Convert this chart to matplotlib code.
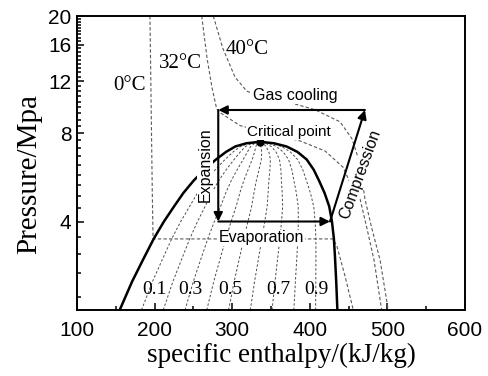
import matplotlib
matplotlib.use('Agg')
import matplotlib.pyplot as plt
import numpy as np
from matplotlib.ticker import FixedLocator, FixedFormatter, NullFormatter

plt.rcParams['font.family'] = ['Liberation Sans', 'DejaVu Sans']
SERIF = ['Liberation Serif', 'DejaVu Serif']

# CO2 saturation dome, pressure in MPa, enthalpy in kJ/kg
p_sat = [2.0, 2.5, 3.0, 3.5, 4.0, 4.5, 5.0, 5.5, 6.0, 6.5, 6.9, 7.2, 7.38, 7.47]
h_liq = [155, 171, 186, 199, 212, 225, 237, 250, 264, 279, 292, 304, 318, 336]
h_vap = [435.5, 434, 432.5, 431, 428.5, 425, 419, 412, 405, 396, 384, 370, 354, 336]
crit_h, crit_p = 336, 7.47

qualities = [0.1, 0.2, 0.3, 0.4, 0.5, 0.6, 0.7, 0.8, 0.9]
q_labels = ['0.1', '0.3', '0.5', '0.7', '0.9']
q_label_h = [200, 246, 297, 359, 409]

# isotherms
iso0_h = [194, 195.5, 197, 198, 430, 435, 445, 456]
iso0_p = [20, 10, 5, 3.49, 3.49, 3.29, 2.63, 2.0]
iso32_h = [260.7, 267.5, 274, 280, 284, 310, 348.7, 387.4, 419.6, 442.8, 455.7, 464.7, 473.7, 482.7, 492.6]
iso32_p = [20, 14.4, 11.4, 9.65, 9.4, 8.48, 7.95, 7.52, 6.95, 6.12, 5.15, 4.77, 3.78, 2.96, 2.0]
iso40_h = [275.6, 288, 303.6, 318.7, 345, 374.5, 406.7, 439, 454.4, 464.7, 471, 480, 490.5, 501]
iso40_p = [20, 15.5, 12.4, 11.1, 10.5, 10.15, 9.6, 8.73, 7.64, 6.28, 4.77, 3.78, 2.96, 2.0]

# transcritical cycle corners
p_high, p_low = 9.58, 4.0
h_gc_in, h_gc_out, h_ev_out = 471, 282, 426

fig = plt.figure(figsize=(4.89, 3.76), dpi=100)
ax = fig.add_axes([0.1575, 0.1755, 0.7935, 0.7819])

dash = dict(color='0.35', lw=0.8, ls=(0, (3, 2)))
ax.plot(iso0_h, iso0_p, **dash)
ax.plot(iso32_h, iso32_p, **dash)
ax.plot(iso40_h, iso40_p, **dash)

hl = np.array(h_liq)
hv = np.array(h_vap)
for q in qualities:
    ax.plot(hl + q * (hv - hl), p_sat, color='0.3', lw=0.7, ls=(0, (2.5, 2)))

ax.plot(h_liq, p_sat, color='k', lw=1.8, zorder=4)
ax.plot(h_vap, p_sat, color='k', lw=1.8, zorder=4)
ax.plot(crit_h, crit_p, 'ko', ms=5, zorder=6)

arrow = dict(arrowstyle='-|>', lw=1.5, color='k', mutation_scale=13, shrinkA=0, shrinkB=0)
legs = [((h_gc_in, p_high), (h_gc_out, p_high)),
        ((h_gc_out, p_high), (h_gc_out, p_low)),
        ((h_gc_out, p_low), (h_ev_out, p_low)),
        ((h_ev_out, p_low), (h_gc_in, p_high))]
for start, end in legs:
    ax.annotate('', xy=end, xytext=start, arrowprops=arrow, zorder=5)

box = dict(facecolor='white', edgecolor='none', pad=0.5)
ax.text(381, 10.73, 'Gas cooling', fontsize=11.5, ha='center', va='center', bbox=box, zorder=7)
ax.text(373, 8.07, 'Critical point', fontsize=11, ha='center', va='center', bbox=box, zorder=7)
ax.text(338, 3.52, 'Evaporation', fontsize=11.5, ha='center', va='center', bbox=box, zorder=7)
ax.text(265, 6.22, 'Expansion', fontsize=11.5, rotation=90, ha='center', va='center', bbox=box, zorder=7)
ax.text(464.7, 5.8, 'Compression', fontsize=11.5, rotation=70, ha='center', va='center', bbox=box, zorder=7)

ax.text(167.7, 11.6, '0°C', family=SERIF, fontsize=15, ha='center', va='center')
ax.text(232.7, 13.8, '32°C', family=SERIF, fontsize=15, ha='center', va='center')
ax.text(319.7, 15.4, '40°C', family=SERIF, fontsize=15, ha='center', va='center')
for lab, h in zip(q_labels, q_label_h):
    ax.text(h, 2.34, lab, family=SERIF, fontsize=14, ha='center', va='center')

ax.set_yscale('log')
ax.set_xlim(100, 600)
ax.set_ylim(2, 20)

ax.xaxis.set_major_locator(FixedLocator([100, 200, 300, 400, 500, 600]))
ax.xaxis.set_minor_locator(FixedLocator([150, 250, 350, 450, 550]))
ax.yaxis.set_major_locator(FixedLocator([4, 8, 12, 16, 20]))
ax.yaxis.set_major_formatter(FixedFormatter(['4', '8', '12', '16', '20']))
ax.yaxis.set_minor_locator(FixedLocator([4 * k / 9 for k in range(5, 45) if k % 9]))
ax.yaxis.set_minor_formatter(NullFormatter())

ax.tick_params(which='both', direction='in', top=False, right=False, width=1.1, labelsize=15)
ax.tick_params(which='major', length=5)
ax.tick_params(which='minor', length=3)
ax.tick_params(axis='x', pad=8)
ax.tick_params(axis='y', pad=4)
for s in ax.spines.values():
    s.set_linewidth(1.4)

ax.set_xlabel('specific enthalpy/(kJ/kg)', family=SERIF, fontsize=19.5, labelpad=2)
ax.set_ylabel('Pressure/Mpa', family=SERIF, fontsize=21, labelpad=4)
ax.xaxis.label.set_x(0.528)
ax.yaxis.label.set_y(0.463)

fig.savefig('out.png', dpi=100)
